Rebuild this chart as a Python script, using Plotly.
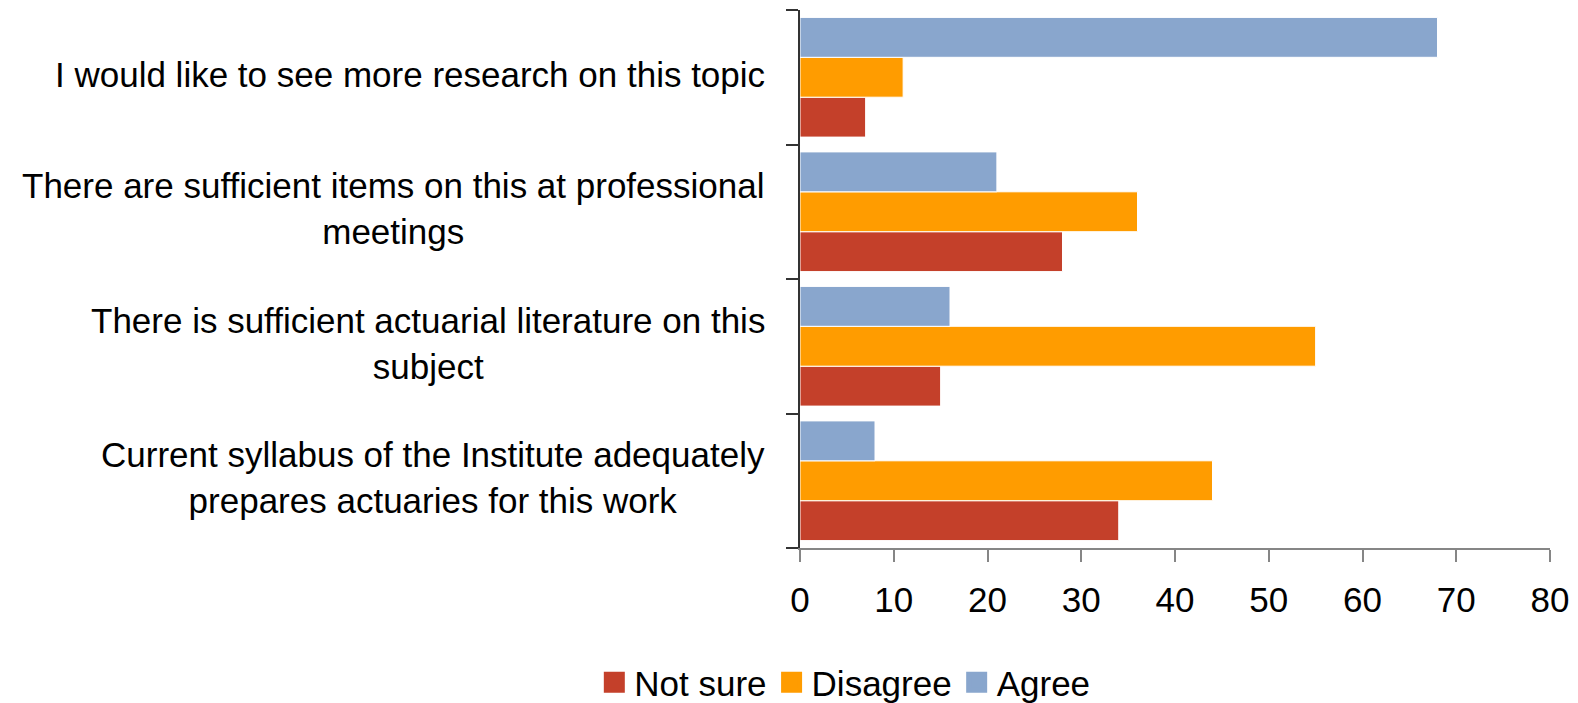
import plotly.graph_objects as go

categories = [
    "I would like to see more research on this topic",
    "There are sufficient items on this at professional<br>meetings",
    "There is sufficient actuarial literature on this<br>subject",
    "Current syllabus of the Institute adequately<br>prepares actuaries for this work",
]
series_names = ["Not sure", "Disagree", "Agree"]
not_sure = [7, 28, 15, 34]
disagree = [11, 36, 55, 44]
agree = [68, 21, 16, 8]
x_ticks = [0, 10, 20, 30, 40, 50, 60, 70, 80]

colors = {"Not sure": "#C4402A", "Disagree": "#FF9C00", "Agree": "#89A6CD"}
values = {"Not sure": not_sure, "Disagree": disagree, "Agree": agree}

FONT = "Liberation Sans, Arial, sans-serif"

fig = go.Figure()
for name in series_names:
    fig.add_trace(go.Bar(
        y=categories, x=values[name], name=name, orientation="h",
        marker=dict(color=colors[name], line=dict(color="white", width=1)),
        showlegend=False, legendgroup=name,
    ))
# legend entries (larger square swatches)
for name in series_names:
    fig.add_trace(go.Scatter(
        x=[None], y=[None], mode="markers", name=name, legendgroup=name,
        marker=dict(symbol="square", size=16, color=colors[name],
                    line=dict(color=colors[name], width=5)),
        showlegend=True, hoverinfo="skip",
    ))

annotations = []
for c in categories:
    annotations.append(dict(
        x=0, xref="paper", y=c, yref="y", text=c, showarrow=False,
        xanchor="right", yanchor="middle", align="center", xshift=-33, yshift=3,
        font=dict(family=FONT, size=35, color="black"),
    ))

fig.update_layout(
    width=1570, height=695,
    margin=dict(l=792, r=28, t=2, b=155, autoexpand=False),
    plot_bgcolor="white", paper_bgcolor="white",
    barmode="group", bargap=0.11, bargroupgap=0.0,
    font=dict(family=FONT, size=35, color="black"),
    showlegend=True,
    legend=dict(orientation="h", xref="container", x=0.533, xanchor="center",
                yref="paper", y=-0.25, yanchor="middle",
                font=dict(size=35), traceorder="normal", itemclick=False),
    annotations=annotations,
)
fig.update_xaxes(
    range=[0, 80], tickvals=x_ticks, ticktext=[str(v) for v in x_ticks],
    showgrid=False, zeroline=False, showline=True, linecolor="#868686", linewidth=2,
    ticks="outside", ticklen=12, tickcolor="#868686", tickwidth=2,
    tickfont=dict(size=35, color="black"), ticklabelstandoff=8,
)
fig.update_yaxes(
    categoryorder="array", categoryarray=categories[::-1],
    showgrid=False, zeroline=False, showline=True, linecolor="#333333", linewidth=2,
    ticks="outside", ticklen=12, tickcolor="#333333", tickwidth=2,
    tickson="boundaries", showticklabels=False,
)

fig.write_html("out.html")
